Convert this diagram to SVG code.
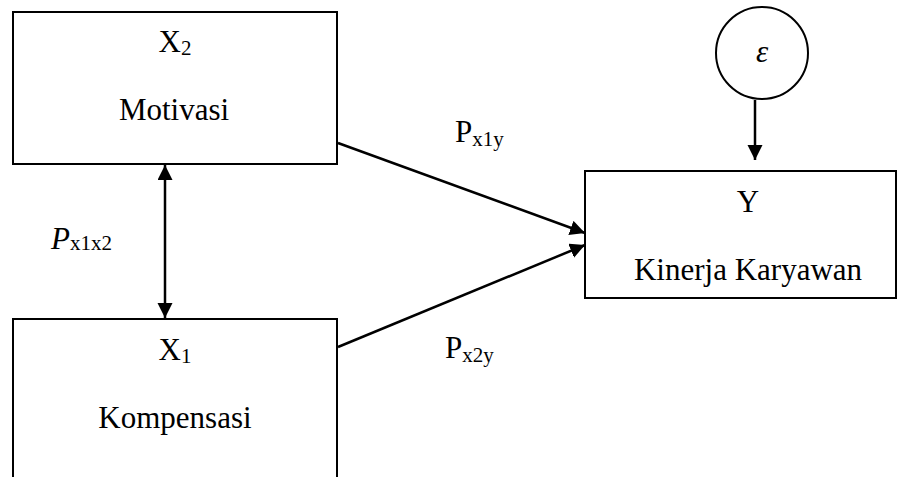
<svg xmlns="http://www.w3.org/2000/svg" width="898" height="477" viewBox="0 0 898 477">
<style>
.box{fill:#fff;stroke:#000;stroke-width:2}
text{font-family:'Liberation Serif',serif;font-size:31px;fill:#000}
.lbl{text-anchor:middle}
.sub{font-size:21px}
.conn{stroke:#000;stroke-width:2.5;fill:none}
</style>
<defs>
<marker id="ah" markerUnits="userSpaceOnUse" markerWidth="16" markerHeight="16" refX="15" refY="7.5" orient="auto-start-reverse">
<path d="M0,0 L15,7.5 L0,15 z" fill="#000"/>
</marker>
</defs>
<rect width="898" height="477" fill="#fff"/>
<g id="node-x2">
<rect class="box" x="13" y="12" width="324" height="152"/>
<text class="lbl" x="175" y="52" font-family="Liberation Serif, serif">X<tspan class="sub" dy="3">2</tspan></text>
<text class="lbl" x="174" y="120" font-family="Liberation Serif, serif">Motivasi</text>
</g>
<g id="node-x1">
<rect class="box" x="13" y="319" width="324" height="200"/>
<text class="lbl" x="175" y="360" font-family="Liberation Serif, serif">X<tspan class="sub" dy="3">1</tspan></text>
<text class="lbl" x="175" y="428" font-family="Liberation Serif, serif">Kompensasi</text>
</g>
<g id="node-y">
<rect class="box" x="585" y="171" width="311" height="127"/>
<text class="lbl" x="748" y="212" font-family="Liberation Serif, serif">Y</text>
<text class="lbl" x="748" y="280" font-family="Liberation Serif, serif">Kinerja Karyawan</text>
</g>
<g id="node-e">
<circle cx="762" cy="53" r="46" fill="#fff" stroke="#000" stroke-width="2"/>
<text class="lbl" x="762" y="62" font-family="Liberation Serif, serif" font-style="italic" font-size="30">ε</text>
</g>
<g id="connectors">
<line class="conn" x1="165" y1="165" x2="165" y2="318" marker-start="url(#ah)" marker-end="url(#ah)"/>
<line class="conn" x1="338" y1="143" x2="585" y2="233" marker-end="url(#ah)"/>
<line class="conn" x1="338" y1="347" x2="585" y2="245" marker-end="url(#ah)"/>
<line class="conn" x1="755" y1="100" x2="755" y2="160" marker-end="url(#ah)"/>
</g>
<g id="labels">
<text x="51" y="249" font-family="Liberation Serif, serif"><tspan font-style="italic">P</tspan><tspan class="sub" dy="1">x1x2</tspan></text>
<text x="455" y="142" font-family="Liberation Serif, serif">P<tspan class="sub" dy="4">x1y</tspan></text>
<text x="445" y="358" font-family="Liberation Serif, serif">P<tspan class="sub" dy="4">x2y</tspan></text>
</g>
</svg>
